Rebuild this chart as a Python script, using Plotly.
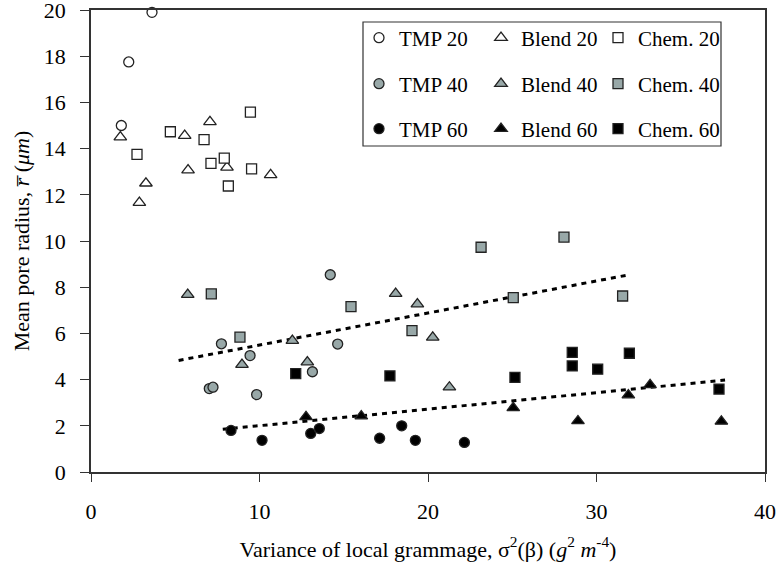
import plotly.graph_objects as go

# ---- data ----
tmp20_x = [3.62, 2.24, 1.80]
tmp20_y = [19.9, 17.75, 15.0]
blend20_x = [1.74, 3.26, 2.87, 5.56, 7.06, 5.76, 8.07, 10.66]
blend20_y = [14.5, 12.5, 11.66, 14.56, 15.16, 13.07, 13.19, 12.86]
chem20_x = [4.71, 2.73, 6.71, 7.12, 7.91, 8.15, 9.53, 9.46]
chem20_y = [14.73, 13.75, 14.39, 13.36, 13.59, 12.38, 13.12, 15.58]

tmp40_x = [7.74, 9.44, 7.02, 7.24, 9.83, 13.14, 14.2, 14.64]
tmp40_y = [5.55, 5.04, 3.61, 3.67, 3.35, 4.34, 8.54, 5.54]
blend40_x = [5.74, 8.96, 11.95, 12.84, 18.08, 19.37, 20.28, 21.27]
blend40_y = [7.68, 4.65, 5.69, 4.76, 7.72, 7.27, 5.83, 3.67]
chem40_x = [7.14, 8.84, 15.43, 19.05, 23.15, 28.07, 25.06, 31.55]
chem40_y = [7.71, 5.84, 7.16, 6.12, 9.73, 10.17, 7.55, 7.62]

tmp60_x = [8.31, 10.15, 13.04, 13.55, 17.13, 18.44, 19.25, 22.16]
tmp60_y = [1.8, 1.37, 1.67, 1.88, 1.46, 2.0, 1.37, 1.28]
blend60_x = [12.76, 16.04, 25.06, 28.9, 31.89, 33.18, 37.41]
blend60_y = [2.39, 2.42, 2.78, 2.21, 3.33, 3.77, 2.19]
chem60_x = [12.15, 17.74, 25.16, 28.56, 28.56, 30.07, 31.95, 37.27]
chem60_y = [4.26, 4.16, 4.1, 5.18, 4.59, 4.45, 5.14, 3.59]

trend40_x = [5.2, 31.73]
trend40_y = [4.83, 8.51]
trend60_x = [7.82, 37.63]
trend60_y = [1.85, 3.98]

x_ticks = [0, 10, 20, 30, 40]
y_ticks = [0, 2, 4, 6, 8, 10, 12, 14, 16, 18, 20]

GRAY = "#98a8a8"
FONT = "Liberation Serif, Times New Roman, serif"

# plot area in pixels (for placing legend pieces)
L, R, T, B = 91, 765, 10, 472
def px(xp):
    return (xp - L) / (R - L)
def py(yp):
    return (B - yp) / (B - T)

fig = go.Figure()

for tx, ty in [(trend40_x, trend40_y), (trend60_x, trend60_y)]:
    fig.add_trace(go.Scatter(x=tx, y=ty, mode="lines", showlegend=False,
                             line=dict(color="black", width=3, dash="5px,5px"),
                             hoverinfo="skip"))

series = [
    ("TMP 20", tmp20_x, tmp20_y, "circle", "white"),
    ("Blend 20", blend20_x, blend20_y, "triangle-up", "white"),
    ("Chem. 20", chem20_x, chem20_y, "square", "white"),
    ("TMP 40", tmp40_x, tmp40_y, "circle", GRAY),
    ("Blend 40", blend40_x, blend40_y, "triangle-up", GRAY),
    ("Chem. 40", chem40_x, chem40_y, "square", GRAY),
    ("TMP 60", tmp60_x, tmp60_y, "circle", "black"),
    ("Blend 60", blend60_x, blend60_y, "triangle-up", "black"),
    ("Chem. 60", chem60_x, chem60_y, "square", "black"),
]
row_y = [38, 84, 129]
col_x = [359, 481, 598]
legends = {}
for i, (name, xs, ys, sym, col) in enumerate(series):
    leg = "legend" if i == 0 else f"legend{i + 1}"
    size = 11 if sym == "triangle-up" else 10
    fig.add_trace(go.Scatter(
        x=xs, y=ys, mode="markers", name=name, legend=leg, cliponaxis=False,
        marker=dict(symbol=sym, size=size, color=col,
                    line=dict(color="#222222", width=1.3))))
    r, c = divmod(i, 3)
    legends[leg] = dict(x=px(col_x[c]), y=py(row_y[r]), xanchor="left", yanchor="middle",
                        bgcolor="rgba(0,0,0,0)", borderwidth=0, itemwidth=30,
                        font=dict(family=FONT, size=21, color="black"))

fig.update_layout(
    width=781, height=570,
    margin=dict(l=L, r=781 - R, t=T, b=570 - B),
    plot_bgcolor="white", paper_bgcolor="white",
    font=dict(family=FONT, color="black"),
    shapes=[dict(type="rect", xref="paper", yref="paper",
                 x0=px(363), x1=px(721), y0=py(146), y1=py(22),
                 line=dict(color="#333333", width=1.2), fillcolor="rgba(0,0,0,0)")],
    **legends,
)

fig.update_xaxes(range=[0, 40], tickvals=x_ticks, ticktext=[str(v) for v in x_ticks],
                 ticks="outside", ticklen=8, tickcolor="#333333",
                 ticklabelstandoff=11, automargin=False, ticklabeloverflow="allow",
                 showline=True, linecolor="#333333", linewidth=1.5, mirror=True,
                 showgrid=False, zeroline=False,
                 tickfont=dict(family=FONT, size=22, color="black"),
                 title=dict(text="Variance of local grammage, σ<sup>2</sup>(β) (<i>g</i><sup>2</sup> <i>m</i><sup>-4</sup>)",
                            font=dict(family=FONT, size=22, color="black"), standoff=18))
fig.update_yaxes(range=[0, 20], tickvals=y_ticks, ticktext=[str(v) for v in y_ticks],
                 ticks="outside", ticklen=9, tickcolor="#333333",
                 ticklabelstandoff=10, automargin=False, ticklabeloverflow="allow",
                 showline=True, linecolor="#333333", linewidth=1.5, mirror=True,
                 showgrid=False, zeroline=False,
                 tickfont=dict(family=FONT, size=22, color="black"),
                 title=dict(text="Mean pore radius, <i>r\u0305</i> (<i>μm</i>)",
                            font=dict(family=FONT, size=22, color="black"), standoff=8))

fig.write_html("out.html")
